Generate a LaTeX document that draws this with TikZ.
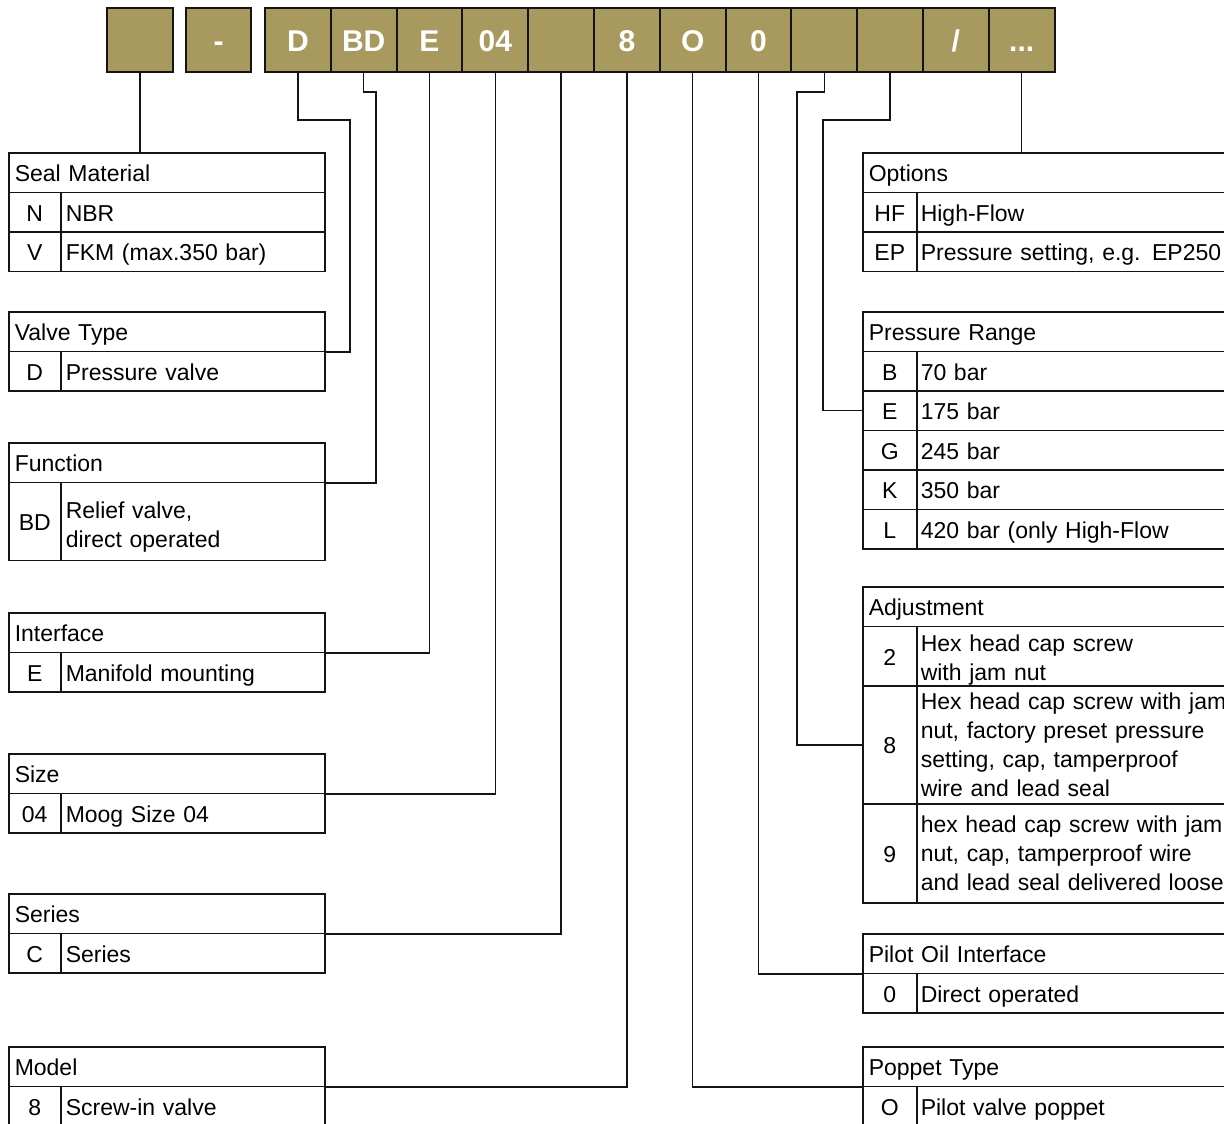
\documentclass[tikz,border=0pt]{standalone}
\usepackage{fontspec}
\setmainfont{Liberation Sans}
\definecolor{olivebox}{RGB}{168,154,94}
\definecolor{linecol}{RGB}{20,20,20}
\tikzset{
  codecell/.style={draw=linecol, line width=2pt, fill=olivebox, text=white,
    minimum width=65.8pt, minimum height=64pt, inner sep=0pt,
    text height=24pt, text depth=0pt,
    font=\fontsize{30}{30}\selectfont\bfseries},
  tbm/.style={draw=linecol, line width=1.5pt, inner ysep=0pt, anchor=north west,
    font=\fontsize{23}{29}\selectfont},
  tb/.style={tbm, text height=21pt, text depth=3pt},
  lhdr/.style={tb, minimum height=39.5pt, text width=304pt, inner xsep=6pt, align=left},
  rhdr/.style={tb, minimum height=39.5pt, text width=386pt, inner xsep=6pt, align=left},
  lkey/.style={tb, minimum height=#1, minimum width=52pt, inner xsep=0pt, align=center},
  rkey/.style={tb, minimum height=#1, minimum width=54pt, inner xsep=0pt, align=center},
  lval/.style={tb, minimum height=#1, text width=254pt, inner xsep=5pt, align=left},
  rval/.style={tb, minimum height=#1, text width=336pt, inner xsep=4pt, align=left},
  lvalm/.style={tbm, minimum height=#1, text width=254pt, inner xsep=5pt, align=left},
  rvalm/.style={tbm, minimum height=#1, text width=336pt, inner xsep=4pt, align=left},
  conn/.style={draw=linecol, line width=1.5pt},
}
\newcommand\lrow[5]{%
  \node[lkey=#3] (#1k) at (8,#2) {#4};
  \node[lval=#3] (#1v) at (60,#2) {#5};}
\newcommand\lrowm[5]{%
  \node[lkey=#3] (#1k) at (8,#2) {#4};
  \node[lvalm=#3] (#1v) at (60,#2) {#5};}
\newcommand\rrow[5]{%
  \node[rkey=#3] (#1k) at (862,#2) {#4};
  \node[rval=#3] (#1v) at (916,#2) {#5};}
\newcommand\rrowm[5]{%
  \node[rkey=#3] (#1k) at (862,#2) {#4};
  \node[rvalm=#3] (#1v) at (916,#2) {#5};}
\begin{document}
\begin{tikzpicture}[x=1pt,y=-1pt]
\useasboundingbox (0,0) rectangle (1224,1124);
\clip (0,0) rectangle (1224,1124);
\fill[white] (0,0) rectangle (1224,1124);

% code boxes
\node[codecell] (c1) at (140,40) {};
\node[codecell] (c2) at (218.5,40) {-};
\node[codecell] (c3) at (297.9,40) {D};
\node[codecell] (c4) at (363.7,40) {BD};
\node[codecell] (c5) at (429.5,40) {E};
\node[codecell] (c6) at (495.3,40) {04};
\node[codecell] (c7) at (561.1,40) {};
\node[codecell] (c8) at (626.9,40) {8};
\node[codecell] (c9) at (692.7,40) {O};
\node[codecell] (c10) at (758.5,40) {0};
\node[codecell] (c11) at (824.3,40) {};
\node[codecell] (c12) at (890.1,40) {};
\node[codecell] (c13) at (955.9,40) {/};
\node[codecell] (c14) at (1021.7,40) {...};

% left tables
\node[lhdr] (sealH) at (8,152) {Seal Material};
\lrow{sealN}{191.5}{39.5pt}{N}{NBR}
\lrow{sealV}{231}{39.5pt}{V}{FKM (max.350 bar)}

\node[lhdr] (vtH) at (8,311) {Valve Type};
\lrow{vtD}{350.5}{39.5pt}{D}{Pressure valve}

\node[lhdr] (fnH) at (8,442) {Function};
\lrowm{fnBD}{481.5}{78pt}{BD}{\rule{0pt}{29pt}Relief valve,\\direct operated}

\node[lhdr] (ifH) at (8,612) {Interface};
\lrow{ifE}{651.5}{39.5pt}{E}{Manifold mounting}

\node[lhdr] (szH) at (8,753) {Size};
\lrow{sz04}{792.5}{39.5pt}{04}{Moog Size 04}

\node[lhdr] (srH) at (8,893) {Series};
\lrow{srC}{932.5}{39.5pt}{C}{Series}

\node[lhdr] (mdH) at (8,1046) {Model};
\lrow{md8}{1085.5}{39.5pt}{8}{Screw-in valve}

% right tables
\node[rhdr] (opH) at (862,152) {Options};
\rrow{opHF}{191.5}{39.5pt}{HF}{High-Flow}
\rrow{opEP}{231}{39.5pt}{EP}{Pressure setting, e.g. EP250}

\node[rhdr] (prH) at (862,311) {Pressure Range};
\rrow{prB}{350.5}{39.5pt}{B}{70 bar}
\rrow{prE}{390}{39.5pt}{E}{175 bar}
\rrow{prG}{429.5}{39.5pt}{G}{245 bar}
\rrow{prK}{469}{39.5pt}{K}{350 bar}
\rrow{prL}{508.5}{39.5pt}{L}{420 bar (only High-Flow}

\node[rhdr] (adH) at (862,586) {Adjustment};
\rrowm{ad2}{625.5}{59.5pt}{2}{\rule{0pt}{25pt}Hex head cap screw\\with jam nut}
\rrowm{ad8}{685}{118pt}{8}{Hex head cap screw with jam\\nut, factory preset pressure\\setting, cap, tamperproof\\wire and lead seal}
\rrowm{ad9}{803}{99pt}{9}{hex head cap screw with jam\\nut, cap, tamperproof wire\\and lead seal delivered loose}

\node[rhdr] (poH) at (862,933) {Pilot Oil Interface};
\rrow{po0}{972.5}{39.5pt}{0}{Direct operated}

\node[rhdr] (ppH) at (862,1046) {Poppet Type};
\rrow{ppO}{1085.5}{39.5pt}{O}{Pilot valve poppet}

% connectors
\coordinate (kD) at (350,120);
\coordinate (kBD) at (376,92);
\coordinate (kA) at (797,92);
\coordinate (kP) at (823,120);
\draw[conn] (c1.south) -- (c1.south |- sealH.north);
\draw[conn] (c3.south) |- (kD) |- (vtH.south east);
\draw[conn] (c4.south) |- (kBD) |- (fnH.south east);
\draw[conn] (c5.south) |- (ifH.south east);
\draw[conn] (c6.south) |- (szH.south east);
\draw[conn] (c7.south) |- (srH.south east);
\draw[conn] (c8.south) |- (mdH.south east);
\draw[conn] (c9.south) |- (ppH.south west);
\draw[conn] (c10.south) |- (poH.south west);
\draw[conn] (c11.south) |- (kA) |- (ad8k.west);
\draw[conn] (c12.south) |- (kP) |- (prEk.west);
\draw[conn] (c14.south) -- (c14.south |- opH.north);
\end{tikzpicture}
\end{document}
